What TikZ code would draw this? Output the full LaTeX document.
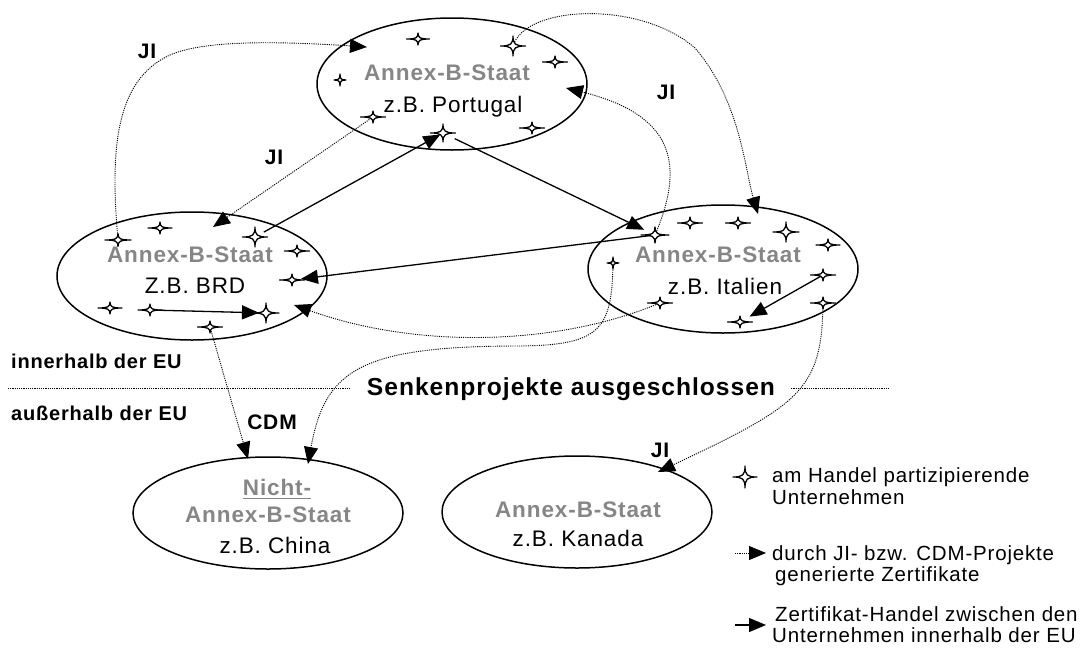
\documentclass[tikz,border=0pt]{standalone}
\usepackage{fontspec}
\setmainfont{Liberation Sans}[LetterSpace=4]
\usetikzlibrary{arrows.meta,shapes.geometric}
\definecolor{annexgray}{RGB}{134,134,134}
\tikzset{
  country/.style={draw, line width=1.5pt, ellipse, minimum width=270pt, minimum height=128pt, inner sep=0pt},
  annex/.style={anchor=base, inner sep=0pt, text=annexgray, font=\bfseries\fontsize{22.5}{27}\selectfont},
  example/.style={anchor=base, inner sep=0pt, font=\fontsize{22.5}{27}\selectfont},
  lab/.style={inner sep=0pt, font=\bfseries\fontsize{21}{25}\selectfont},
  zone/.style={anchor=base west, inner sep=0pt, font=\bfseries\fontsize{20}{24}\selectfont},
  legtext/.style={anchor=base west, inner sep=0pt, font=\fontsize{20.5}{24}\selectfont},
  trade/.style={line width=1.3pt, -{Triangle[length=17pt,width=14pt]}},
  project/.style={line width=0.9pt, dash pattern=on 1.1pt off 1.1pt, -{Triangle[length=17pt,width=14pt]}},
  sepline/.style={line width=0.9pt, dash pattern=on 1.1pt off 1.1pt},
  pics/firm/.style 2 args={code={
    \filldraw[fill=white, draw=black, line width=1.3pt, line join=round]
      (#1,0) .. controls (0.18*#1,0) and (0,0.18*#2) .. (0,#2)
      .. controls (0,0.18*#2) and (-0.18*#1,0) .. (-#1,0)
      .. controls (-0.18*#1,0) and (0,-0.18*#2) .. (0,-#2)
      .. controls (0,-0.18*#2) and (0.18*#1,0) .. cycle;
  }}
}
\begin{document}
\begin{tikzpicture}[x=1pt,y=-1pt]
\useasboundingbox (0,0) rectangle (1084,648);

% countries
\node[country, minimum height=132pt] (eT) at (452,84) {};
\node[country] (eL) at (192,276) {};
\node[country] (eR) at (723,269) {};
\node[country, minimum height=112pt] (eC) at (268,513) {};
\node[country, minimum height=112pt] (eK) at (577,512) {};

% country texts
\node[annex] (tT1) at (447,80) {Annex-B-Staat};
\node[example] (tT2) at (453,112) {z.B. Portugal};
\node[annex] (tL1) at (190,262) {Annex-B-Staat};
\node[example] (tL2) at (195,293) {Z.B. BRD};
\node[annex] (tR1) at (718,262) {Annex-B-Staat};
\node[example] (tR2) at (725,294) {z.B. Italien};
\node[annex] (tC1) at (277,495) {Nicht-};
\draw[annexgray, line width=1.5pt] ([yshift=-3.5pt]tC1.base west) -- ([yshift=-3.5pt]tC1.base east);
\node[annex] (tC2) at (268,522) {Annex-B-Staat};
\node[example] (tC3) at (275,553) {z.B. China};
\node[annex] (tK1) at (578,517) {Annex-B-Staat};
\node[example] (tK2) at (578,546) {z.B. Kanada};

% companies (positions)
\coordinate (sT1) at (418,39);  \coordinate (sT2) at (513,46);
\coordinate (sT3) at (555,62);  \coordinate (sT4) at (340,80);
\coordinate (sT5) at (373,117); \coordinate (sT6) at (532,128);
\coordinate (sT7) at (443,133);
\coordinate (sL1) at (118,240); \coordinate (sL2) at (160,228);
\coordinate (sL3) at (255,237); \coordinate (sL4) at (297,251);
\coordinate (sL5) at (292,280); \coordinate (sL6) at (110,308);
\coordinate (sL7) at (150,310); \coordinate (sL8) at (266,313);
\coordinate (sL9) at (210,327);
\coordinate (sR1) at (655,235); \coordinate (sR2) at (690,223);
\coordinate (sR3) at (738,223); \coordinate (sR4) at (786,232);
\coordinate (sR5) at (828,245); \coordinate (sR6) at (613,263);
\coordinate (sR7) at (823,275); \coordinate (sR8) at (660,303);
\coordinate (sR9) at (823,303); \coordinate (sR10) at (740,322);

% arrow ends inside the countries
\coordinate (tD1) at (367,47);
\coordinate (tD2) at (213,227);
\coordinate (tD3) at (758,214);
\coordinate (tD4) at (566,88);
\coordinate (tD5) at (294,305);
\coordinate (tD6) at (308,464);
\coordinate (tD7) at (658,472);
\coordinate (tD8) at (248,459);

% EU border
\node[anchor=base, inner xsep=16pt, inner ysep=0pt, font=\bfseries\fontsize{24.6}{29}\selectfont] (senk) at (571,395) {Senkenprojekte ausgeschlossen};
\coordinate (sepL) at (8,388);
\coordinate (sepR) at (890,388);
\draw[sepline] (sepL) -- (sepL -| senk.west);
\draw[sepline] (senk.east |- sepR) -- (sepR);
\node[zone] (inEU) at (11,368) {innerhalb der EU};
\node[zone] (outEU) at (11,420) {außerhalb der EU};

% JI / CDM project certificates
\draw[project] (sL1) .. controls (110,150) and (115,80) .. (170,55)
  .. controls (200,42) and (260,40) .. (tD1);
\draw[project] (sT5) -- (tD2);
\draw[project] (sT2) .. controls (525,5) and (640,0) .. (695,48)
  .. controls (740,100) and (745,170) .. (tD3);
\draw[project] (sR1) .. controls (685,165) and (675,115) .. (tD4);
\draw[project] (sR8) .. controls (560,345) and (420,350) .. (tD5);
\draw[project] (sR6) .. controls (612,330) and (600,345) .. (520,346)
  .. controls (360,346) and (325,370) .. (tD6);
\draw[project] (sR9) .. controls (822,390) and (800,405) .. (tD7);
\draw[project] (sL9) -- (tD8);

\node[lab] (ji1) at (147,51) {JI};
\node[lab] (ji2) at (274,157) {JI};
\node[lab] (ji3) at (666,92) {JI};
\node[lab] (ji4) at (660,450) {JI};
\node[lab] (cdm) at (272,422) {CDM};

% certificate trading between companies
\draw[trade, shorten <=10pt, shorten >=3pt] (sL3) -- (sT7);
\draw[trade, shorten <=13pt, shorten >=12pt] (sT7) -- (sR1);
\draw[trade, shorten >=9pt] (sR1) -- (sL5);
\draw[trade, shorten <=8pt, shorten >=7pt] (sL7) -- (sL8);
\draw[trade, shorten >=11pt] (sR7) -- (sR10);

% companies (symbols)
\foreach \n/\w/\h in {sT1/11.5/6, sT2/12.5/10, sT3/12.5/6, sT4/6/6, sT5/12.5/6,
  sT6/12.5/6, sT7/12.5/9, sL1/13/6.5, sL2/12/6, sL3/12.5/10, sL4/12.5/6,
  sL5/12.5/6, sL6/12/6, sL7/12/6, sL8/13/10, sL9/12.5/6, sR1/14/8,
  sR2/12.5/6, sR3/12.5/6, sR4/13/10, sR5/12/6, sR6/6/6, sR7/12.5/6,
  sR8/12.5/6, sR9/12.5/6, sR10/12.5/6}
  \pic at (\n) {firm={\w}{\h}};

% legend
\coordinate (sLeg) at (745,477);
\pic at (sLeg) {firm={12}{11}};
\node[legtext] (leg1a) at (772,482) {am Handel partizipierende};
\node[legtext] (leg1b) at (772,504) {Unternehmen};
\coordinate (lp1) at (735,553);
\coordinate (lp2) at (766,553);
\draw[project] (lp1) -- (lp2);
\node[legtext] (leg2a) at (772,560) {durch JI- bzw. CDM-Projekte};
\node[legtext] (leg2b) at (775,581) {generierte Zertifikate};
\coordinate (lt1) at (735,625);
\coordinate (lt2) at (766,625);
\draw[trade] (lt1) -- (lt2);
\node[legtext] (leg3a) at (775,621) {Zertifikat-Handel zwischen den};
\node[legtext] (leg3b) at (772,642) {Unternehmen innerhalb der EU};
\end{tikzpicture}
\end{document}
